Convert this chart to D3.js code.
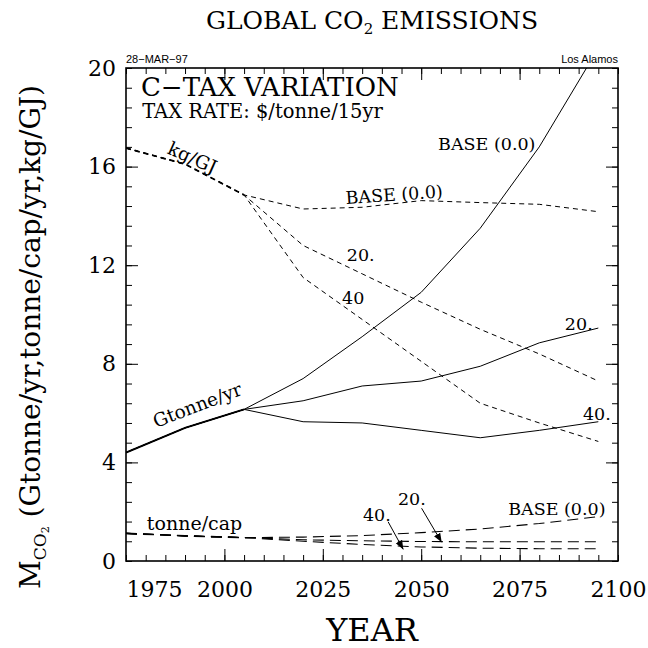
<!DOCTYPE html>
<html><head><meta charset="utf-8">
<script src="https://cdn.jsdelivr.net/npm/d3@7/dist/d3.min.js"></script>
<style>
html,body{margin:0;padding:0;background:#fff;}
svg{display:block;}
text{fill:#000;}
</style></head>
<body>
<svg id="chart" width="648" height="648"></svg>
<script>
// ---- data ----
const years = [1975, 1990, 2005, 2020, 2035, 2050, 2065, 2080, 2095];
// Gtonne/yr (solid)
const gtBase = [4.4, 5.4, 6.15, 7.4, 9.1, 10.9, 13.5, 16.8, 20.8];
const gt20   = [4.4, 5.4, 6.15, 6.5, 7.1, 7.3, 7.9, 8.85, 9.45];
const gt40   = [4.4, 5.4, 6.15, 5.65, 5.6, 5.3, 5.0, 5.3, 5.65];
// kg/GJ (short dash)
const kgBase = [16.75, 16.1, 14.85, 14.28, 14.35, 14.62, 14.54, 14.47, 14.17];
const kg20   = [16.75, 16.1, 14.85, 12.8, 11.65, 10.5, 9.4, 8.4, 7.3];
const kg40   = [16.75, 16.1, 14.85, 11.5, 9.8, 8.1, 6.4, 5.6, 4.85];
// tonne/cap (long dash)
const capBase = [1.12, 1.02, 0.95, 0.97, 1.03, 1.15, 1.3, 1.52, 1.8];
const cap20   = [1.12, 1.02, 0.95, 0.86, 0.82, 0.79, 0.78, 0.78, 0.78];
const cap40   = [1.12, 1.02, 0.95, 0.8, 0.67, 0.57, 0.52, 0.5, 0.5];

const xTickLabels = [1975, 2000, 2025, 2050, 2075, 2100];
const xMajorTicks = [2000, 2025, 2050, 2075];
const yTickLabels = [0, 4, 8, 12, 16, 20];

const svg = d3.select("#chart");
const W = 648, H = 648;
const L = 126, R = 618, T = 68, B = 561;
const x = d3.scaleLinear().domain([1975, 2100]).range([L, R]);
const y = d3.scaleLinear().domain([0, 20]).range([B, T]);
const serif = "'DejaVu Serif', serif";
const sans = "'Liberation Sans', 'DejaVu Sans', sans-serif";

svg.append("rect").attr("width", W).attr("height", H).attr("fill", "#fff");

// defs
const defs = svg.append("defs");
defs.append("clipPath").attr("id", "clip").append("rect")
  .attr("x", L).attr("y", T).attr("width", R - L).attr("height", B - T);
defs.append("marker").attr("id", "arr").attr("viewBox", "0 0 10 10")
  .attr("refX", 10).attr("refY", 5).attr("markerWidth", 9).attr("markerHeight", 9)
  .attr("markerUnits", "userSpaceOnUse").attr("orient", "auto")
  .append("path").attr("d", "M0,1 L10,5 L0,9 z").attr("fill", "#000");

// ---- axes ----
function styleAxis(g) {
  g.select(".domain").remove();
  g.selectAll(".tick line").attr("stroke", "#000").attr("stroke-width", 1);
}
const xMinor = d3.range(1975, 2101, 5);
const yMinor = d3.range(0, 20.001, 0.8);

svg.append("g").attr("transform", `translate(0,${B})`)
  .call(d3.axisBottom(x).tickValues(xMinor).tickSize(-6).tickFormat("")).call(styleAxis);
svg.append("g").attr("transform", `translate(0,${B})`)
  .call(d3.axisBottom(x).tickValues(xMajorTicks).tickSize(-12).tickFormat("")).call(styleAxis);
svg.append("g").attr("transform", `translate(0,${T})`)
  .call(d3.axisTop(x).tickValues(xMinor).tickSize(-6).tickFormat("")).call(styleAxis);
svg.append("g").attr("transform", `translate(0,${T})`)
  .call(d3.axisTop(x).tickValues(xMajorTicks).tickSize(-12).tickFormat("")).call(styleAxis);
svg.append("g").attr("transform", `translate(${L},0)`)
  .call(d3.axisLeft(y).tickValues(yMinor).tickSize(-6).tickFormat("")).call(styleAxis);
svg.append("g").attr("transform", `translate(${L},0)`)
  .call(d3.axisLeft(y).tickValues([4, 8, 12, 16]).tickSize(-12).tickFormat("")).call(styleAxis);
svg.append("g").attr("transform", `translate(${R},0)`)
  .call(d3.axisRight(y).tickValues(yMinor).tickSize(-6).tickFormat("")).call(styleAxis);
svg.append("g").attr("transform", `translate(${R},0)`)
  .call(d3.axisRight(y).tickValues([4, 8, 12, 16]).tickSize(-12).tickFormat("")).call(styleAxis);

// tick labels
const xl = svg.append("g").attr("transform", `translate(0,${B})`)
  .call(d3.axisBottom(x).tickValues(xTickLabels).tickSize(0).tickPadding(20).tickFormat(d3.format("d")));
xl.select(".domain").remove();
xl.selectAll("text").attr("font-family", serif).attr("font-size", 22).attr("fill", "#000");
xl.selectAll(".tick").filter(d => d === 1975).select("text").attr("text-anchor", "start");

const yl = svg.append("g").attr("transform", `translate(${L},0)`)
  .call(d3.axisLeft(y).tickValues(yTickLabels).tickSize(0).tickPadding(10).tickFormat(d3.format("d")));
yl.select(".domain").remove();
yl.selectAll("text").attr("font-family", serif).attr("font-size", 22).attr("fill", "#000");

// frame
svg.append("rect").attr("x", L).attr("y", T).attr("width", R - L).attr("height", B - T)
  .attr("fill", "none").attr("stroke", "#000").attr("stroke-width", 1.6);

// ---- lines ----
const line = d3.line().x((d, i) => x(years[i])).y(d => y(d));
const plot = svg.append("g").attr("clip-path", "url(#clip)");
function draw(data, dash, w) {
  plot.append("path").attr("d", line(data)).attr("fill", "none")
    .attr("stroke", "#000").attr("stroke-width", w)
    .attr("stroke-dasharray", dash);
}
[gtBase, gt20, gt40].forEach(s => draw(s, null, 1));
draw(gtBase.slice(0, 3), null, 2);
[kgBase, kg20, kg40].forEach(s => draw(s, "5,4", 1));
draw(kgBase.slice(0, 3), "5,4", 1.8);
[capBase, cap20, cap40].forEach(s => draw(s, "11,6", 1.1));
draw(capBase.slice(0, 3), "11,6", 1.6);

// ---- annotations (in data units) ----
const notes = [
  {t: "BASE (0.0)", p: [2054.3, 16.67], s: 17.5, r: 0},
  {t: "BASE (0.0)", p: [2030.9, 14.48], s: 17.5, r: -4},
  {t: "20.", p: [2031.1, 12.17], s: 17.5, r: 0},
  {t: "40", p: [2029.9, 10.43], s: 17.5, r: 0},
  {t: "20.", p: [2086.5, 9.37], s: 17.5, r: 0},
  {t: "40.", p: [2091.1, 5.72], s: 17.5, r: 0},
  {t: "Gtonne/yr", p: [1982.6, 5.4], s: 18.5, r: -21},
  {t: "kg/GJ", p: [1985.2, 16.55], s: 18.5, r: 24},
  {t: "tonne/cap", p: [1980.3, 1.26], s: 19, r: 0},
  {t: "40.", p: [2035.2, 1.62], s: 17.5, r: 0},
  {t: "20.", p: [2044.1, 2.27], s: 17.5, r: 0},
  {t: "BASE (0.0)", p: [2072.1, 1.87], s: 17.5, r: 0},
  {t: "C\u2212TAX VARIATION", p: [1978.8, 18.87], s: 26, r: 0},
  {t: "TAX RATE: $/tonne/15yr", p: [1979.1, 17.96], s: 19.5, r: 0}
];
notes.forEach(n => {
  const px = x(n.p[0]), py = y(n.p[1]);
  svg.append("text").attr("x", px).attr("y", py)
    .attr("transform", n.r ? `rotate(${n.r},${px},${py})` : null)
    .attr("font-family", serif).attr("font-size", n.s).text(n.t);
});
const arrows = [
  {from: [2041.6, 1.59], to: [2045.45, 0.47]},
  {from: [2050.1, 2.14], to: [2055.2, 0.76]}
];
arrows.forEach(a => {
  svg.append("line").attr("x1", x(a.from[0])).attr("y1", y(a.from[1]))
    .attr("x2", x(a.to[0])).attr("y2", y(a.to[1]))
    .attr("stroke", "#000").attr("stroke-width", 1).attr("marker-end", "url(#arr)");
});

// ---- titles ----
const title = svg.append("text").attr("x", (L + R) / 2).attr("y", 29)
  .attr("text-anchor", "middle").attr("font-family", serif).attr("font-size", 25);
title.append("tspan").text("GLOBAL CO");
title.append("tspan").attr("font-size", 15).attr("dy", 5).text("2");
title.append("tspan").attr("dy", -5).text(" EMISSIONS");

svg.append("text").attr("x", L).attr("y", 63).attr("font-family", sans)
  .attr("font-size", 11).text("28\u2212MAR\u221297");
svg.append("text").attr("x", R).attr("y", 63).attr("text-anchor", "end")
  .attr("font-family", sans).attr("font-size", 11).text("Los Alamos");

svg.append("text").attr("x", (L + R) / 2).attr("y", 641).attr("text-anchor", "middle")
  .attr("font-family", serif).attr("font-size", 32).text("YEAR");

const yt = svg.append("text").attr("transform", "translate(40,337) rotate(-90)")
  .attr("text-anchor", "middle").attr("font-family", serif).attr("font-size", 28);
yt.append("tspan").text("M");
yt.append("tspan").attr("font-size", 17).attr("dy", 6).text("CO");
yt.append("tspan").attr("font-size", 11).attr("dy", 3).text("2");
yt.append("tspan").attr("dy", -9).text(" (Gtonne/yr,tonne/cap/yr,kg/GJ)");
</script>
</body></html>
